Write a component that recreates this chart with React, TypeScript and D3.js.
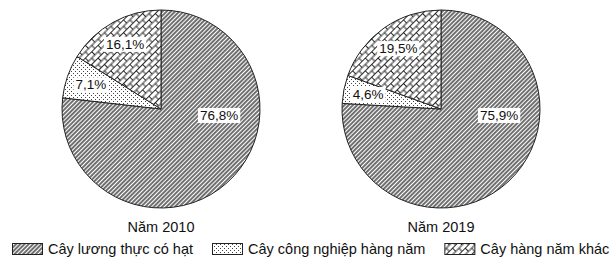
import { useEffect, useRef } from 'react';
import * as d3 from 'd3';

const years = ['Năm 2010', 'Năm 2019'];
const categories = ['Cây lương thực có hạt', 'Cây công nghiệp hàng năm', 'Cây hàng năm khác'];
const values2010 = [76.8, 7.1, 16.1];
const values2019 = [75.9, 4.6, 19.5];
const valueLabels2010 = ['76,8%', '7,1%', '16,1%'];
const valueLabels2019 = ['75,9%', '4,6%', '19,5%'];

const patternIds = ['hatch', 'dots', 'brick'];

export default function App() {
  const ref = useRef<SVGSVGElement | null>(null);

  useEffect(() => {
    if (!ref.current) return;
    document.body.style.margin = '0';
    const svg = d3.select(ref.current);
    svg.selectAll('*').remove();

    const radius = 99;
    const font = 'Arial, "Liberation Sans", sans-serif';

    const defs = svg.append('defs');

    // diagonal lines "/"
    const hatch = defs
      .append('pattern')
      .attr('id', 'hatch')
      .attr('patternUnits', 'userSpaceOnUse')
      .attr('width', 3)
      .attr('height', 6)
      .attr('patternTransform', 'rotate(45)');
    hatch.append('rect').attr('width', 3).attr('height', 6).attr('fill', '#fff');
    hatch
      .append('line')
      .attr('x1', 1)
      .attr('y1', 0)
      .attr('x2', 1)
      .attr('y2', 6)
      .attr('stroke', '#111')
      .attr('stroke-width', 1.2);

    // dots
    const dots = defs
      .append('pattern')
      .attr('id', 'dots')
      .attr('patternUnits', 'userSpaceOnUse')
      .attr('width', 4)
      .attr('height', 4);
    dots.append('rect').attr('width', 4).attr('height', 4).attr('fill', '#fff');
    dots.append('rect').attr('x', 0).attr('y', 0).attr('width', 1).attr('height', 1).attr('fill', '#444');
    dots.append('rect').attr('x', 2).attr('y', 2).attr('width', 1).attr('height', 1).attr('fill', '#444');

    // diagonal brick
    const brick = defs
      .append('pattern')
      .attr('id', 'brick')
      .attr('patternUnits', 'userSpaceOnUse')
      .attr('width', 9)
      .attr('height', 9)
      .attr('patternTransform', 'rotate(-45)');
    brick.append('rect').attr('width', 9).attr('height', 9).attr('fill', '#fff');
    brick
      .append('path')
      .attr('d', 'M0,0.5H9M0,5H9M0.5,0.5V5M5,5V9')
      .attr('stroke', '#111')
      .attr('stroke-width', 0.9)
      .attr('fill', 'none');

    const pie = d3
      .pie<number>()
      .sort(null)
      .value((d) => d);

    const arc = d3.arc<d3.PieArcDatum<number>>().innerRadius(0).outerRadius(radius);
    const labelArc = d3
      .arc<d3.PieArcDatum<number>>()
      .innerRadius(radius * 0.75)
      .outerRadius(radius * 0.75);

    const x = d3.scalePoint<string>().domain(years).range([161, 441]);
    const cy = 109;

    const datasets = [
      { year: years[0], values: values2010, labels: valueLabels2010 },
      { year: years[1], values: values2019, labels: valueLabels2019 }
    ];

    datasets.forEach((ds) => {
      const g = svg.append('g').attr('transform', `translate(${x(ds.year)}, ${cy})`);
      const arcs = pie(ds.values);

      g.selectAll('path.slice')
        .data(arcs)
        .enter()
        .append('path')
        .attr('class', 'slice')
        .attr('d', arc)
        .attr('fill', (_d, i) => `url(#${patternIds[i]})`)
        .attr('stroke', '#222')
        .attr('stroke-width', 1);

      arcs.forEach((a, i) => {
        let pos: [number, number];
        if (i === 0) {
          // big slice label sits just below 3 o'clock
          const ang = (96 * Math.PI) / 180;
          pos = [Math.sin(ang) * radius * 0.59, -Math.cos(ang) * radius * 0.59];
        } else {
          pos = labelArc.centroid(a);
        }
        const lg = g.append('g').attr('transform', `translate(${pos[0]}, ${pos[1]})`);
        const bg = lg.append('rect').attr('fill', '#fff');
        const t = lg
          .append('text')
          .attr('text-anchor', 'middle')
          .attr('dy', '0.36em')
          .style('font-family', font)
          .style('font-size', '13.5px')
          .attr('fill', '#111')
          .text(ds.labels[i]);
        const bb = (t.node() as SVGTextElement).getBBox();
        bg.attr('x', bb.x - 2)
          .attr('y', bb.y)
          .attr('width', bb.width + 4)
          .attr('height', bb.height);
      });

      svg
        .append('text')
        .attr('x', x(ds.year)!)
        .attr('y', 232)
        .attr('text-anchor', 'middle')
        .style('font-family', font)
        .style('font-size', '14.5px')
        .attr('fill', '#111')
        .text(ds.year);
    });

    // legend laid out left to right
    let lx = 12;
    categories.forEach((c, i) => {
      svg
        .append('rect')
        .attr('x', lx + 0.5)
        .attr('y', 243.5)
        .attr('width', 30)
        .attr('height', 11)
        .attr('fill', `url(#${patternIds[i]})`)
        .attr('stroke', '#222')
        .attr('stroke-width', 1);
      const t = svg
        .append('text')
        .attr('x', lx + 36)
        .attr('y', 254)
        .style('font-family', font)
        .style('font-size', '14.5px')
        .attr('fill', '#111')
        .text(c);
      const w = (t.node() as SVGTextElement).getComputedTextLength();
      lx = lx + 36 + w + 19;
    });
  }, []);

  return <svg ref={ref} width={610} height={259} style={{ display: 'block', background: '#fff' }} />;
}
